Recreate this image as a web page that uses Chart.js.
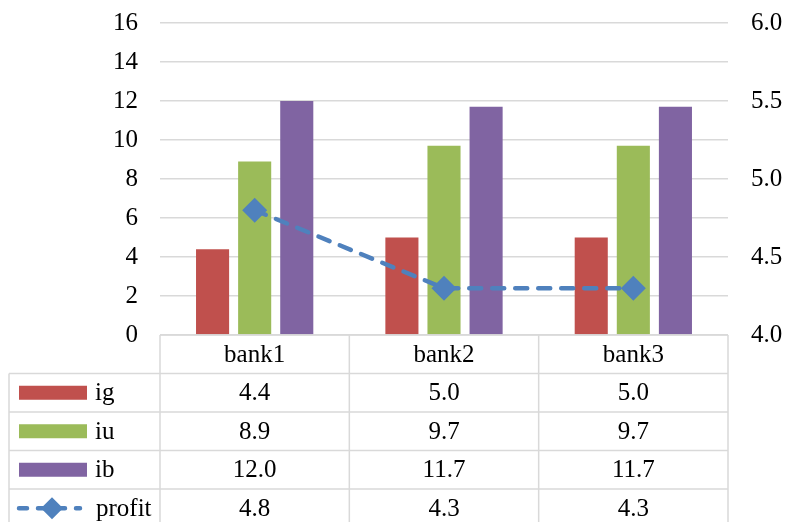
<!DOCTYPE html>
<html>
<head>
<meta charset="utf-8">
<script src="https://cdn.jsdelivr.net/npm/chart.js@4/dist/chart.umd.min.js"></script>
<style>
  html, body { margin: 0; padding: 0; background: #fff; }
  #wrap { width: 787px; height: 522px; }
</style>
</head>
<body>
<div id="wrap"><canvas id="chart" width="787" height="522"></canvas></div>
<script>
const banks  = ['bank1', 'bank2', 'bank3'];
const ig     = [4.4, 5.0, 5.0];
const iu     = [8.9, 9.7, 9.7];
const ib     = [12.0, 11.7, 11.7];
const profit = [4.8, 4.3, 4.3];

const COLORS = { ig: '#C0504D', iu: '#9BBB59', ib: '#8064A2', profit: '#4F81BD' };
const FONT = "'Liberation Serif', 'Times New Roman', serif";
const GRID = '#D9D9D9';
const TICK_FONT = { family: FONT, size: 25 };

Chart.defaults.font.family = FONT;
Chart.defaults.font.size = 25;
Chart.defaults.color = '#000';

const ROW_H = 38.5;

// fixed axis width; drop the extra label padding so the plot keeps its top edge
const fitAxis = width => axis => {
  axis.width = width;
  axis.paddingTop = 0;
  axis.paddingBottom = 0;
};

// table under the plot: header row with bank names, one row per series
const dataTable = {
  id: 'dataTable',
  afterDraw(chart) {
    const { ctx, chartArea: area, scales: { x } } = chart;
    const catW = (area.right - area.left) / banks.length;
    const top = area.bottom;
    const leftEdge = 9;
    const bottom = chart.height;
    const rows = [
      { label: 'ig', values: ig, color: COLORS.ig },
      { label: 'iu', values: iu, color: COLORS.iu },
      { label: 'ib', values: ib, color: COLORS.ib },
      { label: 'profit', values: profit, color: COLORS.profit, line: true },
    ];

    ctx.save();
    ctx.strokeStyle = GRID;
    ctx.lineWidth = 1.5;
    ctx.beginPath();
    ctx.moveTo(area.left, top);
    ctx.lineTo(area.right, top);
    for (let r = 1; r <= rows.length; r++) {
      const y = top + ROW_H * r;
      ctx.moveTo(leftEdge, y);
      ctx.lineTo(area.right, y);
    }
    ctx.moveTo(leftEdge, top + ROW_H);
    ctx.lineTo(leftEdge, bottom);
    for (let c = 0; c <= banks.length; c++) {
      const xx = area.left + catW * c;
      ctx.moveTo(xx, top);
      ctx.lineTo(xx, bottom);
    }
    ctx.stroke();

    ctx.fillStyle = '#000';
    ctx.font = `25px ${FONT}`;
    ctx.textAlign = 'center';
    ctx.textBaseline = 'middle';
    banks.forEach((b, i) => ctx.fillText(b, x.getPixelForValue(i), top + ROW_H / 2 + 1));

    rows.forEach((row, r) => {
      const cy = top + ROW_H * (r + 1) + ROW_H / 2 + 1;
      ctx.textAlign = 'center';
      ctx.fillStyle = '#000';
      row.values.forEach((v, i) => ctx.fillText(v.toFixed(1), x.getPixelForValue(i), cy));

      if (row.line) {
        ctx.strokeStyle = row.color;
        ctx.lineWidth = 4.5;
        ctx.lineCap = 'round';
        ctx.setLineDash([8, 11]);
        ctx.beginPath();
        ctx.moveTo(19, cy - 1);
        ctx.lineTo(80, cy - 1);
        ctx.stroke();
        ctx.setLineDash([]);
        ctx.fillStyle = row.color;
        ctx.beginPath();
        ctx.moveTo(52, cy - 12);
        ctx.lineTo(63, cy - 1);
        ctx.lineTo(52, cy + 10);
        ctx.lineTo(41, cy - 1);
        ctx.closePath();
        ctx.fill();
      } else {
        ctx.fillStyle = row.color;
        ctx.fillRect(19, cy - 8, 68, 14);
      }
      ctx.fillStyle = '#000';
      ctx.textAlign = 'left';
      ctx.fillText(row.label, row.line ? 96 : 95, cy);
    });
    ctx.restore();
  },
};

new Chart(document.getElementById('chart'), {
  data: {
    labels: banks,
    datasets: [
      {
        type: 'line', label: 'profit', data: profit, yAxisID: 'y1', order: 0,
        borderColor: COLORS.profit, borderWidth: 4.5, borderDash: [12, 11],
        borderCapStyle: 'round', fill: false, tension: 0,
        pointStyle: 'rectRot', pointRadius: 12.5, pointHoverRadius: 12.5,
        pointBackgroundColor: COLORS.profit, pointBorderColor: COLORS.profit, pointBorderWidth: 0,
      },
      { type: 'bar', label: 'ig', data: ig, backgroundColor: COLORS.ig, order: 1 },
      { type: 'bar', label: 'iu', data: iu, backgroundColor: COLORS.iu, order: 1 },
      { type: 'bar', label: 'ib', data: ib, backgroundColor: COLORS.ib, order: 1 },
    ],
  },
  options: {
    responsive: false,
    animation: false,
    datasets: { bar: { categoryPercentage: 0.667, barPercentage: 0.786 } },
    layout: { padding: { top: 23, bottom: 187, left: 0, right: 0 } },
    plugins: { legend: { display: false }, tooltip: { enabled: false } },
    scales: {
      x: { display: false },
      y: {
        position: 'left', min: 0, max: 16,
        afterFit: fitAxis(160),
        ticks: { stepSize: 2, padding: 22, font: TICK_FONT, color: '#000' },
        grid: { color: GRID, lineWidth: 1.5, drawTicks: false },
        border: { display: false },
      },
      y1: {
        position: 'right', min: 4, max: 6,
        afterFit: fitAxis(59),
        ticks: { stepSize: 0.5, padding: 23, font: TICK_FONT, color: '#000', callback: v => v.toFixed(1) },
        grid: { display: false, drawTicks: false },
        border: { display: false },
      },
    },
  },
  plugins: [dataTable],
});
</script>
</body>
</html>
